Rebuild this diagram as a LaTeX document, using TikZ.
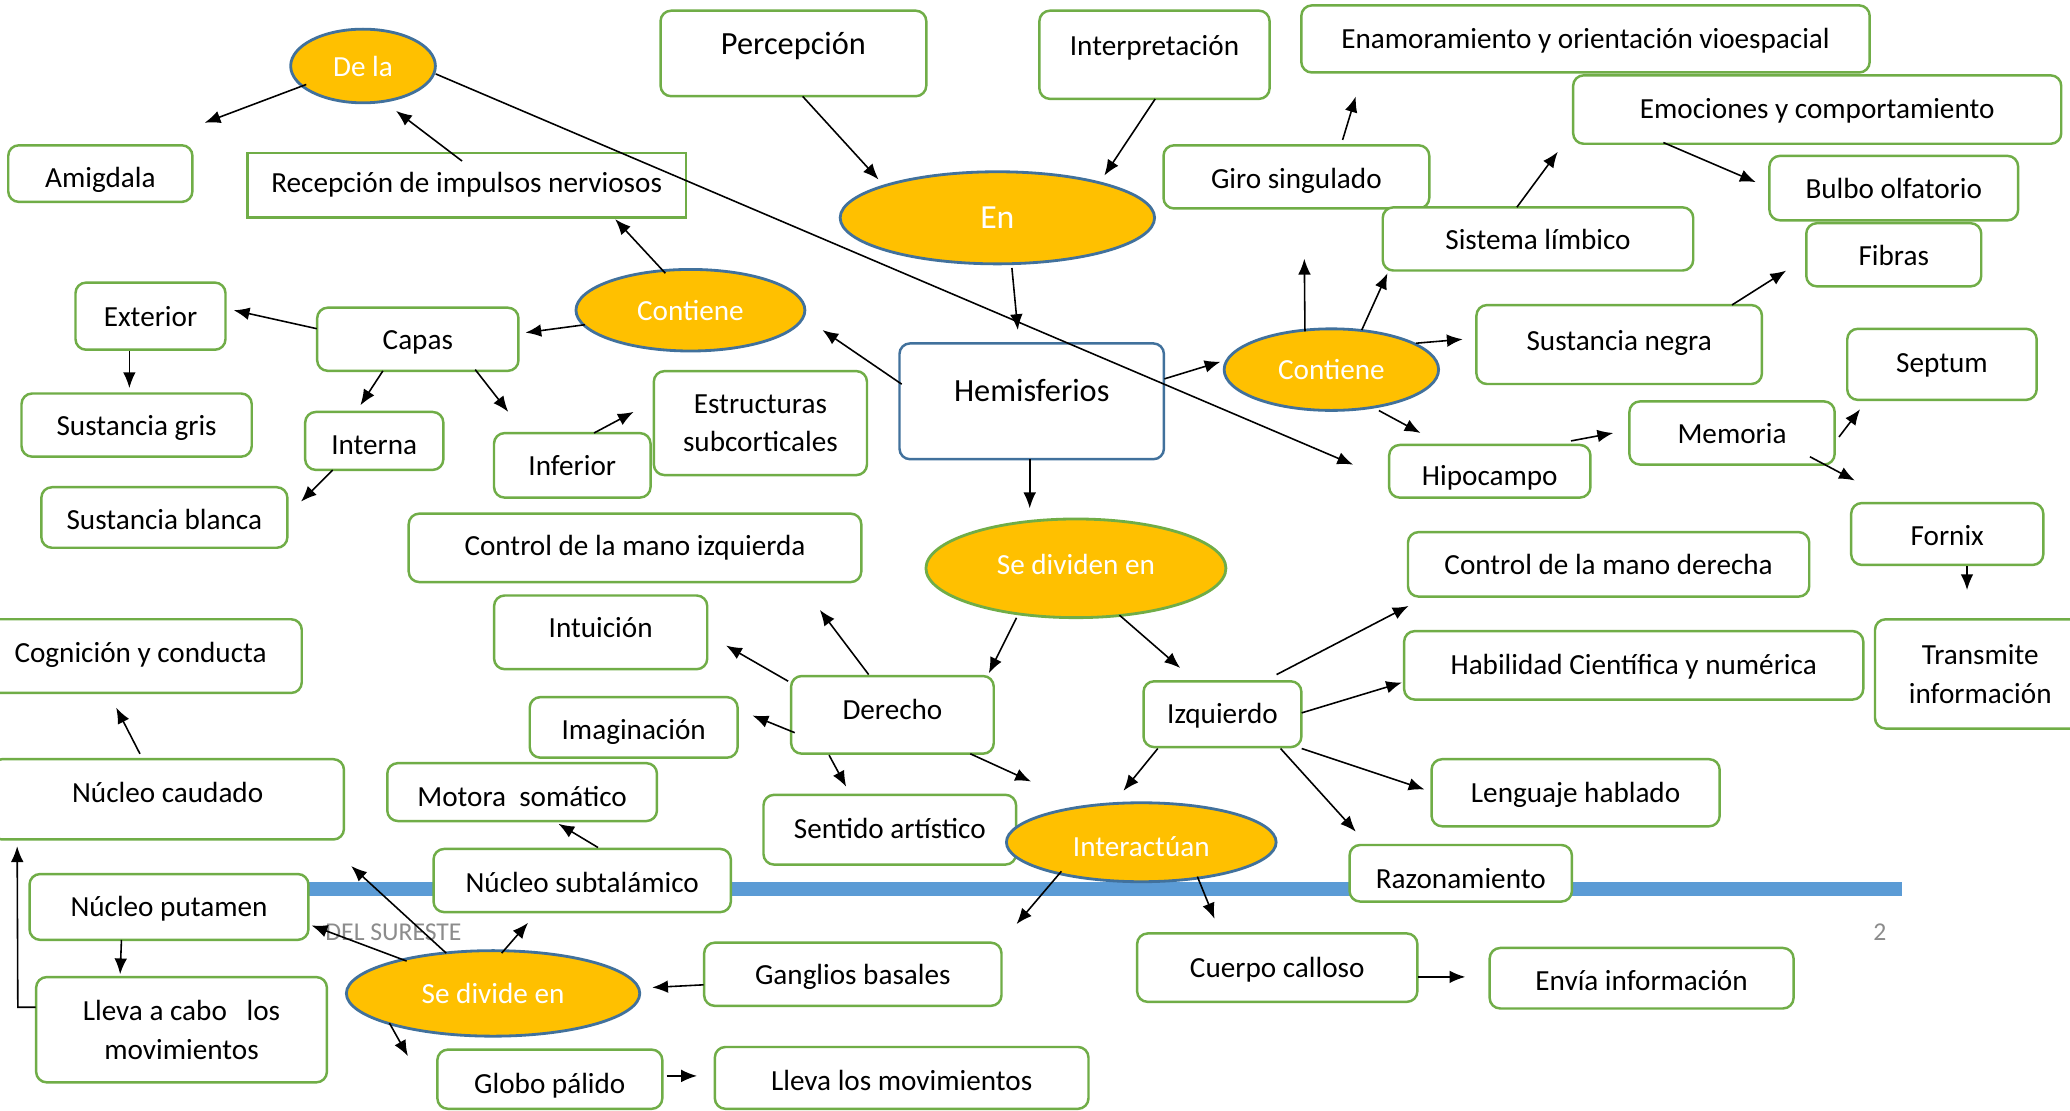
\documentclass[tikz,border=0pt]{standalone}
\usepackage{fontspec}
\setmainfont{Carlito}
\usetikzlibrary{arrows.meta,shapes.geometric,calc}
\definecolor{gr}{HTML}{70AD47}
\definecolor{org}{HTML}{FFC000}
\definecolor{eb}{HTML}{41719C}
\definecolor{barc}{HTML}{5B9BD5}
\definecolor{ftc}{HTML}{8C8C8C}
% box: [opts]{name}{left}{top}{right}{bottom}{text y}{text}
\newcommand\bx[8][]{%
  \pgfmathsetmacro\bxcx{(#3+#5)/2}%
  \pgfmathsetmacro\bxcy{(#4+#6)/2}%
  \pgfmathsetmacro\bxw{(#5-#3)*0.37425}%
  \pgfmathsetmacro\bxh{(#6-#4)*0.37425}%
  \pgfmathsetmacro\bxs{(#7-\bxcy)*0.37425+3.05}%
  \pgfmathsetmacro\bxth{max(2*\bxs,0)}%
  \pgfmathsetmacro\bxtd{max(-2*\bxs,0)}%
  \node[gbox,minimum width=\bxw pt,minimum height=\bxh pt,text height=\bxth pt,text depth=\bxtd pt,#1] (#2) at (\bxcx,\bxcy) {#8};}
% ellipse: [opts]{name}{left}{top}{right}{bottom}{text}
\newcommand\el[7][]{%
  \pgfmathsetmacro\bxcx{(#3+#5)/2}%
  \pgfmathsetmacro\bxcy{(#4+#6)/2}%
  \pgfmathsetmacro\bxw{(#5-#3)*0.37425}%
  \pgfmathsetmacro\bxh{(#6-#4)*0.37425}%
  \node[ell,minimum width=\bxw pt,minimum height=\bxh pt,#1] (#2) at (\bxcx,\bxcy) {#7};}
\begin{document}
\begin{tikzpicture}[x=0.013202cm,y=-0.013202cm,
  gbox/.style={draw=gr,line width=0.7pt,fill=white,rounded corners=3pt,inner sep=0pt,font=\fontsize{8.3}{11}\selectfont},
  ell/.style={ellipse,draw=eb,line width=0.8pt,fill=org,text=white,inner sep=0pt,font=\fontsize{8.3}{11}\selectfont},
  arr/.style={-{Latex[length=4.5pt,width=3.6pt]},line width=0.45pt,black},
  ftxt/.style={font=\fontsize{7.3}{9}\selectfont,text=ftc,inner sep=0pt}]
\useasboundingbox (0,0) rectangle (1568,841);
\clip (0,0) rectangle (1568,841);
\fill[white] (0,0) rectangle (1568,841);
% bar and footer
\fill[barc] (200,668) rectangle (1441,679);
\node[ftxt,anchor=west] (foot) at (246,706) {DEL SURESTE};
\node[ftxt] (pnum) at (1424,706) {2};
% boxes
\bx[font=\fontsize{9.2}{12}\selectfont]{percep}{500}{8}{702}{73}{33}{Percepción}
\bx{interp}{787}{8}{962}{75}{34}{Interpretación}
\bx{enam}{985}{4}{1417}{55}{29}{Enamoramiento y orientación vioespacial}
\bx{emoc}{1191}{57}{1562}{109}{82}{Emociones y comportamiento}
\bx{giro}{881}{110}{1083}{158}{135}{Giro singulado}
\bx{sist}{1047}{157}{1283}{205}{181}{Sistema límbico}
\bx{bulbo}{1340}{118}{1529}{167}{142}{Bulbo olfatorio}
\bx{fibras}{1368}{169}{1501}{217}{193}{Fibras}
\bx{amig}{6}{110}{146}{153}{134}{Amigdala}
\bx[sharp corners]{recep}{187}{116}{520}{165}{138}{Recepción de impulsos nerviosos}
\bx{exter}{57}{214}{171}{265}{239}{Exterior}
\bx{capas}{240}{233}{393}{281}{257}{Capas}
\bx{sgris}{16}{298}{191}{346}{322}{Sustancia gris}
\bx{interna}{231}{312}{336}{356}{336}{Interna}
\bx{sblanca}{31}{369}{218}{415}{393}{Sustancia blanca}
\bx{infer}{374}{328}{493}{377}{352}{Inferior}
\bx[align=center,text height=,text depth=]{estruc}{495}{281}{657}{360}{320}{Estructuras\\subcorticales}
\bx[draw=eb,font=\fontsize{9.2}{12}\selectfont]{hemis}{681}{260}{882}{348}{296}{Hemisferios}
\bx{snegra}{1118}{231}{1335}{291}{257}{Sustancia negra}
\bx{septum}{1399}{249}{1543}{303}{274}{Septum}
\bx{memoria}{1234}{304}{1390}{352}{328}{Memoria}
\bx{hipo}{1052}{337}{1205}{377}{360}{Hipocampo}
\bx{fornix}{1402}{381}{1548}{428}{405}{Fornix}
\bx{cizq}{309}{389}{653}{441}{413}{Control de la mano izquierda}
\bx{cder}{1066}{403}{1371}{452}{427}{Control de la mano derecha}
\bx{intu}{374}{451}{536}{507}{475}{Intuición}
\bx{cogn}{-16}{469}{229}{525}{494}{Cognición y conducta}
\bx[align=center,text height=,text depth=]{transm}{1420}{469}{1580}{552}{510}{Transmite\\información}
\bx{habil}{1063}{478}{1412}{530}{503}{Habilidad Científica y numérica}
\bx{derecho}{599}{512}{753}{571}{537}{Derecho}
\bx{izq}{866}{516}{986}{566}{540}{Izquierdo}
\bx{imag}{401}{528}{559}{574}{552}{Imaginación}
\bx{ncaud}{-7}{575}{261}{636}{600}{Núcleo caudado}
\bx{motora}{293}{578}{498}{622}{603}{Motora\ \ somático}
\bx{sentido}{578}{602}{770}{655}{627}{Sentido artístico}
\bx{lenguaje}{1084}{575}{1303}{626}{600}{Lenguaje hablado}
\bx{razon}{1022}{640}{1191}{683}{665}{Razonamiento}
\bx{nsubt}{328}{643}{554}{691}{668}{Núcleo subtalámico}
\bx{nputa}{22}{662}{234}{712}{686}{Núcleo putamen}
\bx{ganglios}{533}{714}{759}{762}{738}{Ganglios basales}
\bx{cuerpo}{861}{707}{1074}{759}{732}{Cuerpo calloso}
\bx{envia}{1128}{718}{1359}{764}{742}{Envía información}
\bx[align=center,text height=,text depth=]{llevac}{27}{740}{248}{820}{780}{Lleva a cabo\ \ \ los\\movimientos}
\bx{globo}{331}{795}{502}{840}{820}{Globo pálido}
\bx{llevam}{541}{793}{825}{840}{818}{Lleva los movimientos}
% ellipses
\el[text height=6.2pt,text depth=0pt]{dela}{220}{22}{330}{78}{De la}
\el[font=\fontsize{9.6}{12}\selectfont]{en}{636}{130}{875}{200}{En}
\el{contl}{436}{204}{610}{266}{Contiene}
\el{contr}{927}{249}{1090}{311}{Contiene}
\el[draw=gr,text height=5.8pt,text depth=2.3pt]{sediv}{701}{393}{929}{468}{Se dividen en}
\el[text height=8pt,text depth=0pt]{inter}{762}{608}{967}{668}{Interactúan}
\el{sedivide}{262}{720}{485}{785}{Se divide en}
% connectors
\draw[arr] ($(dela.center)+(-43,14)$) -- ($(amig.center)+(79,-38.5)$);
\draw[arr] ($(recep.center)+(-3.5,-18.5)$) -- ($(dela.center)+(25,34)$);
\draw[arr] ($(dela.center)+(55,6)$) -- ($(hipo.center)+(-103.5,-5)$);
\draw[arr] ($(percep.center)+(7,32.5)$) -- ($(en.center)+(-90,-29)$);
\draw[arr] ($(interp.center)+(0.5,33.5)$) -- ($(en.center)+(81,-32)$);
\draw[arr] ($(en.center)+(11,38)$) -- ($(hemis.center)+(-10.5,-54)$);
\draw[arr] ($(contl.center)+(-19,-28)$) -- ($(recep.center)+(112.5,25.5)$);
\draw[arr] ($(contl.center)+(-80,11)$) -- ($(capas.center)+(81.5,-5)$);
\draw[arr] ($(hemis.center)+(-98.5,-13)$) -- ($(contl.center)+(100,15)$);
\draw[arr] ($(capas.center)+(-76.5,-8)$) -- ($(exter.center)+(63,-4.5)$);
\draw[arr] ($(exter.center)+(-16,26.5)$) -- ($(sgris.center)+(-5.5,-28)$);
\draw[arr] ($(capas.center)+(-26.5,24)$) -- ($(interna.center)+(-10.5,-27)$);
\draw[arr] ($(capas.center)+(43.5,23)$) -- ($(infer.center)+(-48.5,-40.5)$);
\draw[arr] ($(interna.center)+(-31.5,22)$) -- ($(sblanca.center)+(103.5,-12)$);
\draw[arr] ($(infer.center)+(16.5,-24.5)$) -- ($(estruc.center)+(-96,-8.5)$);
\draw[arr] ($(hemis.center)+(100.5,-17)$) -- ($(contr.center)+(-84,-6)$);
\draw[arr] ($(contr.center)+(-20,-29)$) -- ($(giro.center)+(6,62)$);
\draw[arr] ($(contr.center)+(23,-30)$) -- ($(sist.center)+(-114,26)$);
\draw[arr] ($(giro.center)+(35,-28)$) -- ($(enam.center)+(-174,43.5)$);
\draw[arr] ($(sist.center)+(-16,-24)$) -- ($(emoc.center)+(-196.5,32)$);
\draw[arr] ($(emoc.center)+(-116.5,25)$) -- ($(bulbo.center)+(-104.5,-4.5)$);
\draw[arr] ($(contr.center)+(64,-20)$) -- ($(snegra.center)+(-118.5,-4)$);
\draw[arr] ($(snegra.center)+(85.5,-30)$) -- ($(fibras.center)+(-81.5,12)$);
\draw[arr] ($(contr.center)+(36,31)$) -- ($(hipo.center)+(-52.5,-29)$);
\draw[arr] ($(hipo.center)+(61.5,-23)$) -- ($(memoria.center)+(-90,0)$);
\draw[arr] ($(memoria.center)+(81,3)$) -- ($(septum.center)+(-62,34)$);
\draw[arr] ($(memoria.center)+(59,18)$) -- ($(fornix.center)+(-70,-40.5)$);
\draw[arr] ($(fornix.center)+(15,24.5)$) -- ($(transm.center)+(-10,-63.5)$);
\draw[arr] ($(hemis.center)+(-1.5,44)$) -- ($(sediv.center)+(-35,-45.5)$);
\draw[arr] ($(sediv.center)+(-45,37.5)$) -- ($(derecho.center)+(73,-31.5)$);
\draw[arr] ($(sediv.center)+(33,35.5)$) -- ($(izq.center)+(-32,-35)$);
\draw[arr] ($(derecho.center)+(-18,-30.5)$) -- ($(cizq.center)+(140,47)$);
\draw[arr] ($(derecho.center)+(-79,-25.5)$) -- ($(intu.center)+(95,10)$);
\draw[arr] ($(derecho.center)+(-74,13.5)$) -- ($(imag.center)+(90,-9)$);
\draw[arr] ($(derecho.center)+(-48,30.5)$) -- ($(sentido.center)+(-33,-32.5)$);
\draw[arr] ($(derecho.center)+(59,29.5)$) -- ($(inter.center)+(-83.5,-46)$);
\draw[arr] ($(izq.center)+(41,-30)$) -- ($(cder.center)+(-151.5,31.5)$);
\draw[arr] ($(izq.center)+(60,-1)$) -- ($(habil.center)+(-175.5,13)$);
\draw[arr] ($(izq.center)+(60,26)$) -- ($(lenguaje.center)+(-114.5,-2.5)$);
\draw[arr] ($(izq.center)+(44,26)$) -- ($(razon.center)+(-79.5,-31.5)$);
\draw[arr] ($(izq.center)+(-49,26)$) -- ($(inter.center)+(-13.5,-39)$);
\draw[arr] ($(inter.center)+(-60.5,22)$) -- ($(ganglios.center)+(124,-38)$);
\draw[arr] ($(inter.center)+(42.5,26)$) -- ($(cuerpo.center)+(-47.5,-37)$);
\draw[arr] ($(cuerpo.center)+(106.5,7)$) -- ($(envia.center)+(-133.5,-1)$);
\draw[arr] ($(ganglios.center)+(-113,8)$) -- ($(sedivide.center)+(120.5,-4.5)$);
\draw[arr] ($(sedivide.center)+(-65.5,-24.5)$) -- ($(nputa.center)+(108,14)$);
\draw[arr] ($(sedivide.center)+(-35.5,-30.5)$) -- ($(nputa.center)+(138,-31)$);
\draw[arr] ($(sedivide.center)+(6.5,-30.5)$) -- ($(nsubt.center)+(-41,32)$);
\draw[arr] ($(nsubt.center)+(12,-25)$) -- ($(motora.center)+(27.5,24)$);
\draw[arr] ($(sedivide.center)+(-78.5,22.5)$) -- ($(globo.center)+(-107.5,-17.5)$);
\draw[arr] ($(globo.center)+(88.5,-2.5)$) -- ($(llevam.center)+(-155,-1.5)$);
\draw[arr] ($(nputa.center)+(-36,25)$) -- ($(llevac.center)+(-46.5,-42)$);
\draw[arr] ($(llevac.center)+(-110.5,-17)$) -- ($(llevac.center)+(-124,-17)$) -- ($(ncaud.center)+(-114,35.5)$);
\draw[arr] ($(ncaud.center)+(-21,-34.5)$) -- ($(cogn.center)+(-18.5,39)$);
\end{tikzpicture}
\end{document}
